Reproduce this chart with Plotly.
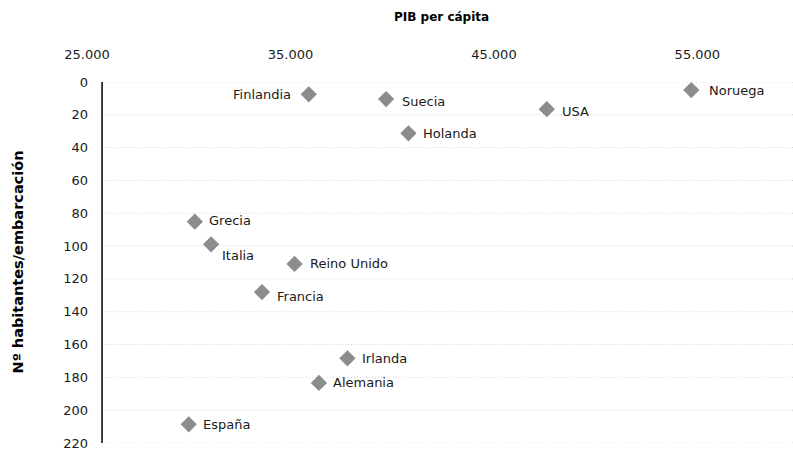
import plotly.graph_objects as go

countries = ["Finlandia", "Suecia", "USA", "Noruega", "Holanda", "Grecia", "Italia",
             "Reino Unido", "Francia", "Irlanda", "Alemania", "España"]
pib = [35900, 39700, 47600, 54700, 40800, 30300, 31100, 35200, 33600, 37800, 36400, 30000]
hab = [7.5, 10.4, 16.6, 4.9, 31.3, 85.1, 98.9, 110.9, 128.0, 168.4, 183.4, 208.6]

# label placement (style): anchor side and pixel offsets
label_anchor = ["right", "left", "left", "left", "left", "left", "left",
                "left", "left", "left", "left", "left"]
label_dx = [-16, 14, 13, 16, 13, 12, 9, 13, 13, 13, 12, 12]
label_dy = [0, -2, -2, 0, 0, 1, -11, 0, -4, 0, 0, 0]

x_ticks = [25000, 35000, 45000, 55000]
x_tick_text = ["25.000", "35.000", "45.000", "55.000"]
y_ticks = list(range(0, 221, 20))

x_min, x_max = 25000, 59700
y_axis_cross = 25740

FONT = "DejaVu Sans"
MARK = "#8c8c8c"
TXT = "#1a1a1a"

fig = go.Figure()
fig.add_trace(go.Scatter(
    x=pib, y=hab, mode="markers",
    marker=dict(symbol="diamond", size=12.5, color=MARK, line=dict(width=0)),
    cliponaxis=False, hoverinfo="skip", showlegend=False,
))

shapes = []
for yv in y_ticks:
    shapes.append(dict(type="line", xref="x", yref="y", x0=y_axis_cross, x1=x_max,
                       y0=yv, y1=yv, line=dict(color="#d2d2d2", width=1, dash="1px,2px"),
                       layer="below"))
shapes.append(dict(type="line", xref="x", yref="y", x0=y_axis_cross, x1=y_axis_cross,
                   y0=0, y1=220, line=dict(color="#000000", width=1.5)))

annotations = []
for name, xv, yv, anc, dx, dy in zip(countries, pib, hab, label_anchor, label_dx, label_dy):
    annotations.append(dict(text=name, x=xv, y=yv, xref="x", yref="y", showarrow=False,
                            xanchor=anc, yanchor="middle", xshift=dx, yshift=dy,
                            font=dict(family=FONT, size=13, color=TXT)))
annotations += [
    dict(text="<b>PIB per cápita</b>", xref="paper", yref="paper", x=0.502, y=1,
         yshift=65, xanchor="center", yanchor="middle", showarrow=False,
         font=dict(family=FONT, size=12, color="#000000")),
    dict(text="<b>Nº habitantes/embarcación</b>", xref="paper", yref="paper",
         x=0, y=0.5, xshift=-70, textangle=-90, xanchor="center", yanchor="middle",
         showarrow=False, font=dict(family=FONT, size=14.5, color="#000000")),
]

fig.update_layout(
    width=793, height=454,
    margin=dict(l=87, r=0, t=82, b=11, autoexpand=False),
    paper_bgcolor="white", plot_bgcolor="white",
    font=dict(family=FONT, size=13, color=TXT),
    shapes=shapes,
    annotations=annotations,
    xaxis=dict(side="top", range=[x_min, x_max], tickvals=x_ticks, ticktext=x_tick_text,
               showgrid=False, zeroline=False, showline=False, ticks="", automargin=False,
               ticklabelstandoff=19, tickfont=dict(family=FONT, size=13, color=TXT)),
    yaxis=dict(range=[220, 0], tickvals=y_ticks, showgrid=False, zeroline=False,
               showline=False, ticks="", ticklabelstandoff=-2, automargin=False,
               tickfont=dict(family=FONT, size=13, color=TXT)),
)

fig.write_html("out.html", config={"displayModeBar": False},
               post_script="document.body.style.margin='0';document.body.style.overflow='hidden';")
